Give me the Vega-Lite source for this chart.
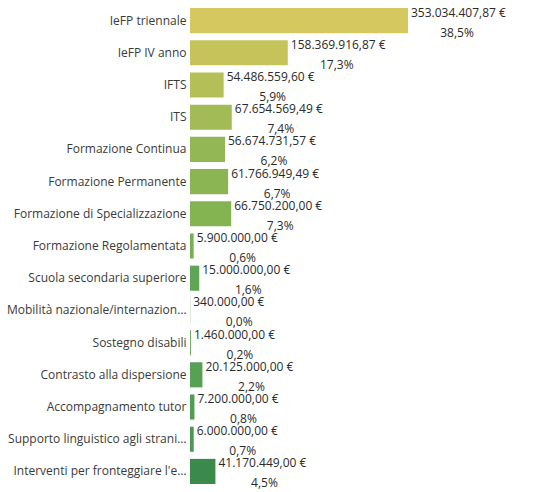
{
  "$schema": "https://vega.github.io/schema/vega-lite/v6.json",
  "autosize": "none",
  "width": 340,
  "height": 484,
  "padding": {"left": 190, "top": 4, "right": 6, "bottom": 4},
  "background": "white",
  "config": {"view": {"stroke": null}, "font": "Open Sans"},
  "data": {
    "values": [
      {"cat": "IeFP triennale", "value": 353034407.87, "vlabel": "353.034.407,87 €", "plabel": "38,5%"},
      {"cat": "IeFP IV anno", "value": 158369916.87, "vlabel": "158.369.916,87 €", "plabel": "17,3%"},
      {"cat": "IFTS", "value": 54486559.60, "vlabel": "54.486.559,60 €", "plabel": "5,9%"},
      {"cat": "ITS", "value": 67654569.49, "vlabel": "67.654.569,49 €", "plabel": "7,4%"},
      {"cat": "Formazione Continua", "value": 56674731.57, "vlabel": "56.674.731,57 €", "plabel": "6,2%"},
      {"cat": "Formazione Permanente", "value": 61766949.49, "vlabel": "61.766.949,49 €", "plabel": "6,7%"},
      {"cat": "Formazione di Specializzazione", "value": 66750200.00, "vlabel": "66.750.200,00 €", "plabel": "7,3%"},
      {"cat": "Formazione Regolamentata", "value": 5900000.00, "vlabel": "5.900.000,00 €", "plabel": "0,6%"},
      {"cat": "Scuola secondaria superiore", "value": 15000000.00, "vlabel": "15.000.000,00 €", "plabel": "1,6%"},
      {"cat": "Mobilità nazionale/internazionale", "value": 340000.00, "vlabel": "340.000,00 €", "plabel": "0,0%"},
      {"cat": "Sostegno disabili", "value": 1460000.00, "vlabel": "1.460.000,00 €", "plabel": "0,2%"},
      {"cat": "Contrasto alla dispersione", "value": 20125000.00, "vlabel": "20.125.000,00 €", "plabel": "2,2%"},
      {"cat": "Accompagnamento tutor", "value": 7200000.00, "vlabel": "7.200.000,00 €", "plabel": "0,8%"},
      {"cat": "Supporto linguistico agli stranieri", "value": 6000000.00, "vlabel": "6.000.000,00 €", "plabel": "0,7%"},
      {"cat": "Interventi per fronteggiare l'emergenza", "value": 41170449.00, "vlabel": "41.170.449,00 €", "plabel": "4,5%"}
    ]
  },
  "encoding": {
    "y": {
      "field": "cat", "type": "nominal", "sort": null,
      "scale": {"paddingInner": 0.22, "paddingOuter": 0.125},
      "axis": {"title": null, "ticks": false, "domain": false, "labelPadding": 4, "labelFontSize": 12, "labelColor": "#3a3a3a", "labelLimit": 181, "labelFont": "Open Sans"}
    },
    "x": {
      "field": "value", "type": "quantitative",
      "scale": {"domain": [0, 550600000], "nice": false},
      "axis": null
    }
  },
  "layer": [
    {
      "mark": {"type": "bar"},
      "encoding": {
        "color": {
          "field": "cat", "type": "nominal", "legend": null,
          "scale": {
            "domain": ["IeFP triennale", "IeFP IV anno", "IFTS", "ITS", "Formazione Continua", "Formazione Permanente", "Formazione di Specializzazione", "Formazione Regolamentata", "Scuola secondaria superiore", "Mobilità nazionale/internazionale", "Sostegno disabili", "Contrasto alla dispersione", "Accompagnamento tutor", "Supporto linguistico agli stranieri", "Interventi per fronteggiare l'emergenza"],
            "range": ["#d4c85e", "#c6c35b", "#b4bf58", "#a3bb56", "#93b754", "#8bb553", "#84b352", "#77b051", "#5ea655", "#62a657", "#5da456", "#57a155", "#519d54", "#4a9852", "#3b8a4c"]
          }
        }
      }
    },
    {
      "mark": {"type": "text", "align": "left", "baseline": "middle", "dx": 3, "dy": -8, "fontSize": 12, "color": "#2a2a2a"},
      "encoding": {"text": {"field": "vlabel"}}
    },
    {
      "mark": {"type": "text", "align": "center", "baseline": "middle", "dx": 49, "dy": 12, "fontSize": 12, "color": "#2a2a2a"},
      "encoding": {"text": {"field": "plabel"}}
    }
  ]
}
